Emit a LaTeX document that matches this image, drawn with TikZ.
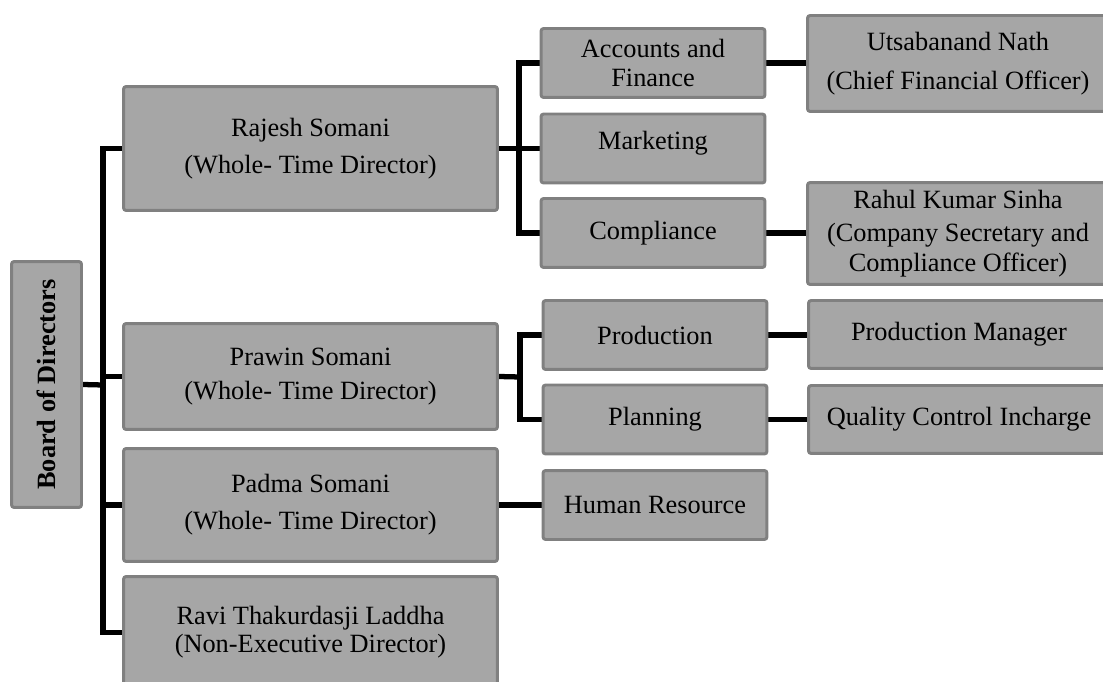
\documentclass[tikz,border=0pt]{standalone}
\usepackage{fontspec}
\setmainfont{Liberation Serif}
\usetikzlibrary{backgrounds}
\definecolor{boxfill}{HTML}{A6A6A6}
\definecolor{boxline}{HTML}{808080}
\begin{document}
\begin{tikzpicture}[x=0.02cm,y=-0.02cm,
        box/.style={draw=boxline,fill=boxfill,line width=1.7pt,rounded corners=1.5pt,
            align=center,inner sep=0pt,font=\fontsize{15}{19}\selectfont},
        director/.style={box,minimum width=7.48cm},
        dept/.style={box,minimum width=4.48cm,minimum height=1.38cm},
        officer/.style={box,minimum width=6.02cm},
        conn/.style={line width=3pt,black}]
        \useasboundingbox (0,0) rectangle (1103,682);
        %% Board
        \node[box,minimum width=1.40cm,minimum height=4.92cm] (board) at (46.5,384.5)
            {\rotatebox{90}{\bfseries Board of Directors}};
        %% Directors
        \node[director,minimum height=2.48cm] (rajesh) at (310.5,148.5)
            {Rajesh Somani\\[2pt](Whole- Time Director)};
        \node[director,minimum height=2.12cm] (prawin) at (310.5,376.5)
            {Prawin Somani\\(Whole- Time Director)};
        \node[director,minimum height=2.26cm] (padma) at (310.5,505)
            {Padma Somani\\[2pt](Whole- Time Director)};
        \node[director,minimum height=2.24cm] (ravi) at (310.5,632.5)
            {Ravi Thakurdasji Laddha\\[-3pt](Non-Executive Director)};
        %% Departments
        \node[dept] (accounts) at (653,63) {Accounts and\\[-3pt]Finance};
        \node[dept] (marketing) at (653,148.5) {\raisebox{9pt}{Marketing}};
        \node[dept] (compliance) at (653,233) {Compliance};
        \node[dept] (production) at (655,335) {Production};
        \node[dept] (planning) at (655,419.5) {Planning};
        \node[dept] (hr) at (655,505) {Human Resource};
        %% Officers
        \node[officer,minimum height=1.92cm] (utsab) at (958,63.5)
            {Utsabanand Nath\\[3pt](Chief Financial Officer)};
        \node[officer,minimum height=2.04cm] (rahul) at (958,233.5)
            {Rahul Kumar Sinha\\[0pt](Company Secretary and\\[-2pt]Compliance Officer)};
        \node[officer,minimum height=1.36cm] (prodman) at (959,334.5) {Production Manager};
        \node[officer,minimum height=1.36cm] (qci) at (959,419.5) {Quality Control Incharge};
        %% Connectors
        \coordinate (trunk) at (103,385);
        \coordinate (rbus) at (519,148.5);
        \coordinate (pbus) at (520,377);
        \begin{scope}[on background layer]
            \draw[conn] (board.east) -- (trunk);
            \draw[conn] (rajesh.west) -| (trunk) |- (ravi.west);
            \draw[conn] (trunk |- prawin.west) -- (prawin.west);
            \draw[conn] (trunk |- padma.west) -- (padma.west);
            \draw[conn] (accounts.west) -| (rbus) |- (compliance.west);
            \draw[conn] (rajesh.east) -- (marketing.west);
            \draw[conn] (prawin.east) -- (pbus);
            \draw[conn] (production.west) -| (pbus) |- (planning.west);
            \draw[conn] (padma.east) -- (hr.west);
            \draw[conn] (accounts.east) -- (accounts.east -| utsab.west);
            \draw[conn] (compliance.east) -- (compliance.east -| rahul.west);
            \draw[conn] (production.east) -- (production.east -| prodman.west);
            \draw[conn] (planning.east) -- (planning.east -| qci.west);
        \end{scope}
    \end{tikzpicture}
\end{document}
